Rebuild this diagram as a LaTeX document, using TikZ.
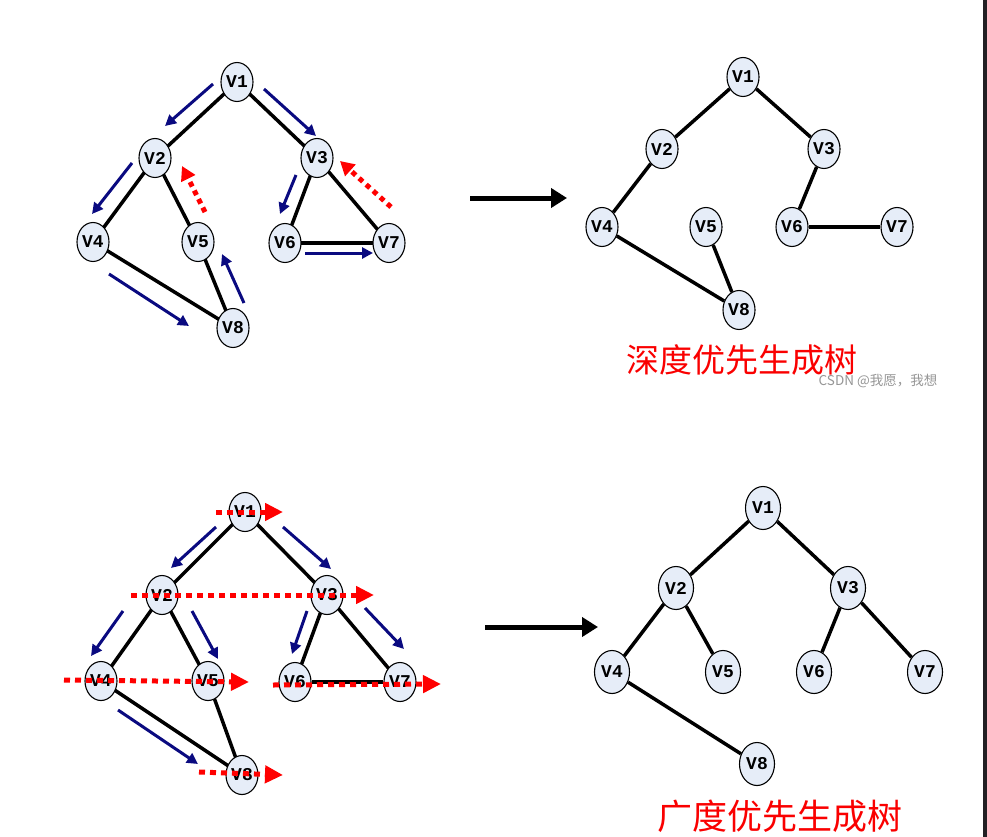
\documentclass[tikz,border=0pt]{standalone}
\usepackage{fontspec}
\usetikzlibrary{shapes.geometric,arrows.meta}
\newfontfamily\nodefont{Liberation Mono}
\newfontfamily\cjkfont{Noto Sans CJK SC}
\definecolor{nodefill}{RGB}{230,237,248}
\definecolor{navyarrow}{RGB}{10,10,128}
\definecolor{redlabel}{RGB}{250,0,0}
\definecolor{edgebar}{RGB}{34,32,36}
\tikzset{
  vtx/.style={ellipse, draw=black, line width=1.1pt, fill=nodefill, minimum width=32pt, minimum height=39pt, inner sep=0pt, font=\nodefont\bfseries\fontsize{18}{18}\selectfont},
  vtxb/.style={vtx, minimum width=35pt, minimum height=43pt},
  edge/.style={line width=3.5pt, black},
  bluearr/.style={navyarrow, line width=3pt, -{Triangle[length=11pt,width=11pt]}},
  redarr/.style={red, line width=5pt, dash pattern=on 5pt off 4.5pt, -{Triangle[length=14pt,width=15pt]}},
  redarrb/.style={red, line width=5pt, dash pattern=on 6pt off 5pt, -{Triangle[length=18pt,width=17pt]}},
  bigarr/.style={black, line width=5pt, -{Triangle[length=16pt,width=19pt]}},
  cjklabel/.style={text=redlabel, inner sep=0pt, text depth=0pt}
}
\begin{document}
\begin{tikzpicture}[x=1pt,y=-1pt]
\useasboundingbox (0,0) rectangle (987,837);
\fill[white] (0,0) rectangle (987,837);
\fill[edgebar] (983,0) rectangle (987,837);

% ---------- top left graph ----------
\coordinate (a1) at (237,82);
\coordinate (a2) at (155,158);
\coordinate (a3) at (317,158);
\coordinate (a4) at (93,242);
\coordinate (a5) at (198,242);
\coordinate (a6) at (285,243);
\coordinate (a7) at (389,243);
\coordinate (a8) at (233,328);
\draw[edge] (a1) -- (a2);
\draw[edge] (a1) -- (a3);
\draw[edge] (a2) -- (a4);
\draw[edge] (a2) -- (a5);
\draw[edge] (a3) -- (a6);
\draw[edge] (a3) -- (a7);
\draw[edge] (a6) -- (a7);
\draw[edge] (a4) -- (a8);
\draw[edge] (a5) -- (a8);
\node[vtx] (na1) at (a1) {V1};
\node[vtx] (na2) at (a2) {V2};
\node[vtx] (na3) at (a3) {V3};
\node[vtx] (na4) at (a4) {V4};
\node[vtx] (na5) at (a5) {V5};
\node[vtx] (na6) at (a6) {V6};
\node[vtx] (na7) at (a7) {V7};
\node[vtx] (na8) at (a8) {V8};

\coordinate (p1s) at (213,84);  \coordinate (p1e) at (165,126);
\coordinate (p2s) at (264,89);  \coordinate (p2e) at (316,136);
\coordinate (p3s) at (132,163); \coordinate (p3e) at (92,214);
\coordinate (p4s) at (296,175); \coordinate (p4e) at (280,214);
\coordinate (p5s) at (305,253); \coordinate (p5e) at (373,253);
\coordinate (p6s) at (109,274); \coordinate (p6e) at (189,326);
\coordinate (p7s) at (244,303); \coordinate (p7e) at (222,254);
\draw[bluearr] (p1s) -- (p1e);
\draw[bluearr] (p2s) -- (p2e);
\draw[bluearr] (p3s) -- (p3e);
\draw[bluearr] (p4s) -- (p4e);
\draw[bluearr] (p5s) -- (p5e);
\draw[bluearr] (p6s) -- (p6e);
\draw[bluearr] (p7s) -- (p7e);
\coordinate (r1s) at (205,212); \coordinate (r1e) at (182,166);
\coordinate (r2s) at (391,207); \coordinate (r2e) at (340,161);
\draw[redarr] (r1s) -- (r1e);
\draw[redarr] (r2s) -- (r2e);

% big arrow top
\coordinate (ba1s) at (470,198); \coordinate (ba1e) at (567,198);
\draw[bigarr] (ba1s) -- (ba1e);

% ---------- top right tree ----------
\node[vtx] (b1) at (743,77) {V1};
\node[vtx] (b2) at (662,149) {V2};
\node[vtx] (b3) at (824,149) {V3};
\node[vtx] (b4) at (602,227) {V4};
\node[vtx] (b5) at (706,227) {V5};
\node[vtx] (b6) at (792,227) {V6};
\node[vtx] (b7) at (897,227) {V7};
\node[vtx] (b8) at (739,310) {V8};
\draw[edge] (b1) -- (b2);
\draw[edge] (b1) -- (b3);
\draw[edge] (b2) -- (b4);
\draw[edge] (b3) -- (b6);
\draw[edge] (b6) -- (b7);
\draw[edge] (b4) -- (b8);
\draw[edge] (b5) -- (b8);
\node[cjklabel, font=\cjkfont\fontsize{33}{33}\selectfont] (lab1) at (742,359) {深度优先生成树};
\node[text={rgb,255:red,150;green,150;blue,150}, font=\cjkfont\fontsize{13.5}{13.5}\selectfont, inner sep=0pt] (wm) at (878,381) {CSDN @我愿，我想};

% ---------- bottom left graph ----------
\coordinate (c1) at (245,512);
\coordinate (c2) at (162,595);
\coordinate (c3) at (327,595);
\coordinate (c4) at (101,681);
\coordinate (c5) at (208,681);
\coordinate (c6) at (295,682);
\coordinate (c7) at (400,682);
\coordinate (c8) at (242,775);
\draw[edge] (c1) -- (c2);
\draw[edge] (c1) -- (c3);
\draw[edge] (c2) -- (c4);
\draw[edge] (c2) -- (c5);
\draw[edge] (c3) -- (c6);
\draw[edge] (c3) -- (c7);
\draw[edge] (c4) -- (c8);
\draw[edge] (c5) -- (c8);
\node[vtx] (nc1) at (c1) {V1};
\node[vtx] (nc2) at (c2) {V2};
\node[vtx] (nc3) at (c3) {V3};
\node[vtx] (nc4) at (c4) {V4};
\node[vtx] (nc5) at (c5) {V5};
\node[vtx] (nc6) at (c6) {V6};
\node[vtx] (nc7) at (c7) {V7};
\node[vtx] (nc8) at (c8) {V8};
\draw[edge] (nc6) -- (nc7);

\coordinate (q1s) at (216,527); \coordinate (q1e) at (171,568);
\coordinate (q2s) at (283,527); \coordinate (q2e) at (331,569);
\coordinate (q3s) at (123,611); \coordinate (q3e) at (91,656);
\coordinate (q4s) at (192,611); \coordinate (q4e) at (218,659);
\coordinate (q5s) at (307,611); \coordinate (q5e) at (292,654);
\coordinate (q6s) at (365,608); \coordinate (q6e) at (404,649);
\coordinate (q7s) at (118,710); \coordinate (q7e) at (198,764);
\draw[bluearr] (q1s) -- (q1e);
\draw[bluearr] (q2s) -- (q2e);
\draw[bluearr] (q3s) -- (q3e);
\draw[bluearr] (q4s) -- (q4e);
\draw[bluearr] (q5s) -- (q5e);
\draw[bluearr] (q6s) -- (q6e);
\draw[bluearr] (q7s) -- (q7e);
\coordinate (s1s) at (216,512); \coordinate (s1e) at (283,512);
\coordinate (s2s) at (131,595); \coordinate (s2e) at (374,595);
\coordinate (s3s) at (64,680);  \coordinate (s3e) at (249,682);
\coordinate (s4s) at (273,685); \coordinate (s4e) at (441,684);
\coordinate (s5s) at (199,772); \coordinate (s5e) at (283,775);
\draw[redarrb] (s1s) -- (s1e);
\draw[redarrb] (s2s) -- (s2e);
\draw[redarrb] (s3s) -- (s3e);
\draw[redarrb] (s4s) -- (s4e);
\draw[redarrb] (s5s) -- (s5e);

% big arrow bottom
\coordinate (ba2s) at (485,627); \coordinate (ba2e) at (598,627);
\draw[bigarr] (ba2s) -- (ba2e);

% ---------- bottom right tree ----------
\node[vtxb] (d1) at (763,508) {V1};
\node[vtxb] (d2) at (676,588) {V2};
\node[vtxb] (d3) at (848,588) {V3};
\node[vtxb] (d4) at (612,672) {V4};
\node[vtxb] (d5) at (723,672) {V5};
\node[vtxb] (d6) at (814,672) {V6};
\node[vtxb] (d7) at (925,672) {V7};
\node[vtxb] (d8) at (757,764) {V8};
\draw[edge] (d1) -- (d2);
\draw[edge] (d1) -- (d3);
\draw[edge] (d2) -- (d4);
\draw[edge] (d2) -- (d5);
\draw[edge] (d3) -- (d6);
\draw[edge] (d3) -- (d7);
\draw[edge] (d4) -- (d8);
\node[cjklabel, font=\cjkfont\fontsize{35}{35}\selectfont] (lab2) at (780,815) {广度优先生成树};
\end{tikzpicture}
\end{document}
